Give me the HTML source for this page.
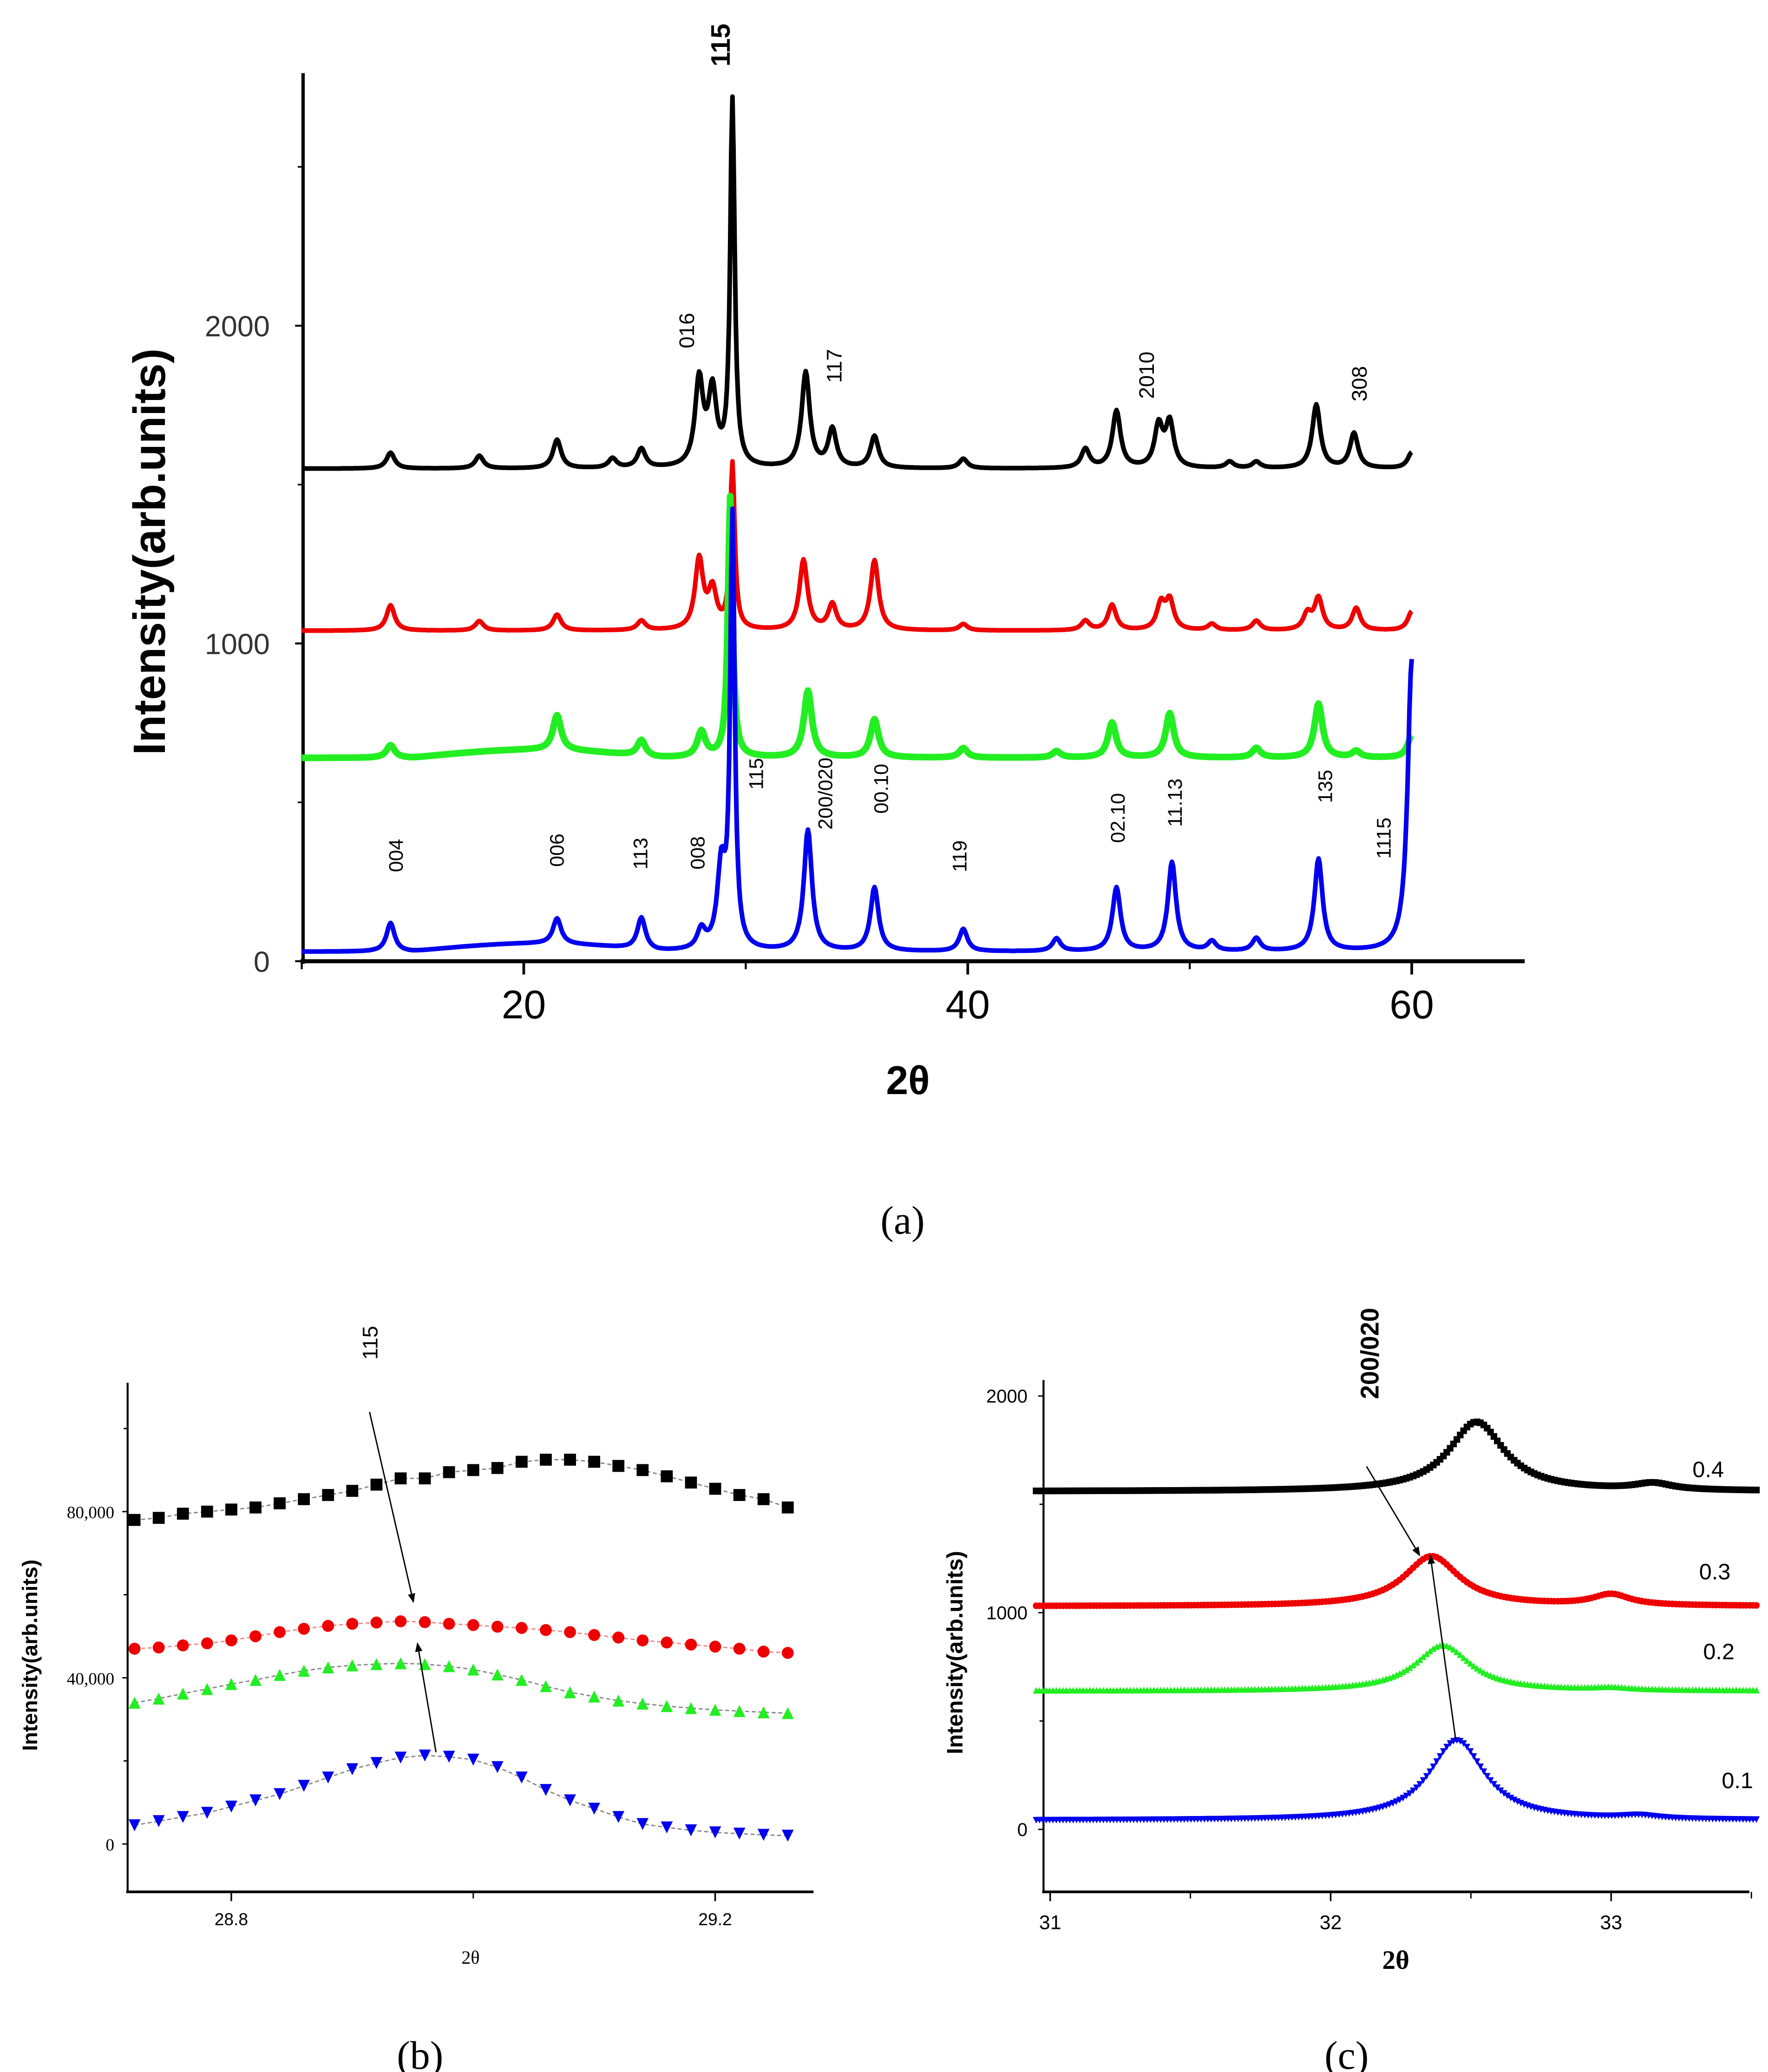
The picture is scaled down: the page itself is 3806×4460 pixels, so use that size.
<!DOCTYPE html>
<html><head><meta charset="utf-8"><style>
html,body{margin:0;padding:0;background:#fff}
svg{display:block}
text{font-family:"Liberation Sans",sans-serif}
</style></head><body>
<svg id="fig" xmlns="http://www.w3.org/2000/svg" width="3806" height="4460" viewBox="0 0 1330 1558.5" preserveAspectRatio="none">
<defs><marker id="ah" viewBox="0 0 10 10" refX="9" refY="5" markerWidth="7" markerHeight="7" orient="auto"><path d="M0,1 L10,5 L0,9 z" fill="#000"/></marker></defs>
<g id="pa"></g>
<g id="pb"></g>
<g id="pc"></g>
</svg>
<script>
// ---- Panel (a) data: peak [position, height] per series, baseline ----
const aBases = [1550, 1040, 640, 30];
const aColors = ['#000', '#e00', '#2e2', '#00e'];
const aPeaksBlack = [[14,50],[18,40],[21.5,90],[24,30],[25.3,60],[27.9,270],[28.5,230],[29.4,1150],[32.7,300],[33.9,120],[35.8,100],[39.8,30],[45.3,60],[46.7,180],[48.6,130],[49.1,140],[51.8,20],[53,20],[55.7,200],[57.4,110],[60,50]];
const aPeaksRed = [[14,80],[18,30],[21.5,50],[25.3,30],[27.9,220],[28.5,120],[29.4,520],[32.6,220],[33.9,80],[35.8,220],[39.8,20],[45.3,30],[46.5,80],[48.7,80],[49.1,90],[51,20],[53,30],[55.3,50],[55.8,100],[57.5,70],[60,60]];
const aPeaksGreen = [[14,40],[21.5,110],[25.3,50],[28,80],[29.3,820],[32.8,210],[35.8,120],[39.8,30],[44,20],[46.5,110],[49.1,140],[53,30],[55.8,170],[57.5,20],[60,70]];
const aPeaksBlue = [[14,90],[21.5,80],[25.3,100],[28,60],[28.9,250],[29.4,1350],[32.8,380],[35.8,200],[39.8,70],[44,40],[46.7,200],[49.2,280],[51,30],[53,40],[55.8,290],[60,920]];
const aXTicks = [20, 40, 60];
const aYTicks = [0, 1000, 2000];

// ---- Panel (b) data ----
const bX0 = 28.72, bStep = 0.02;
const bBlack = [78,78.5,79.5,80,80.5,81,82,83,84,85,86.5,88,88,89.5,90,90.5,92,92.5,92.5,92,91,90,88.5,87,85.5,84,83,81];
const bRed = [47,47.3,47.8,48.3,49,50,51,51.8,52.5,53,53.3,53.6,53.4,53,52.7,52.3,52,51.5,51,50.3,49.7,49,48.5,48,47.5,47,46.3,46];
const bGreen = [34,35,36.2,37.3,38.5,39.5,40.7,41.7,42.5,43,43.3,43.5,43.3,42.8,42,40.8,39.5,38,36.5,35.5,34.5,33.8,33.2,32.7,32.3,32,31.7,31.5];
const bBlue = [4.5,5.5,6.5,7.5,9,10.5,12,14,16,18,19.5,20.8,21.3,21,20.3,18.5,16,13,10.5,8.5,6.5,4.8,4,3.3,2.8,2.5,2.2,2];
const bXTicks = [28.8, 29.2];
const bYTicks = [0, 40, 80];
const bYTickLabels = ['0', '40,000', '80,000'];

// ---- Panel (c) data: [base, peakPos, peakHeight, bumpPos, bumpHeight] ----
const cBlack = [1560, 32.52, 320, 33.15, 30];
const cRed = [1030, 32.36, 230, 33.0, 50];
const cGreen = [640, 32.4, 210, 33.0, 10];
const cBlue = [40, 32.45, 370, 33.1, 15];
const cLabels = ['0.4', '0.3', '0.2', '0.1'];
const cXTicks = [31, 32, 33];
const cYTicks = [0, 1000, 2000];

const NS = 'http://www.w3.org/2000/svg';
function mk(parent, tag, attrs, txt) {
  const e = document.createElementNS(NS, tag);
  for (const k in attrs) e.setAttribute(k, attrs[k]);
  if (txt !== undefined) e.textContent = txt;
  parent.appendChild(e);
  return e;
}
const lor = (x, p, w) => 1 / (1 + ((x - p) / w) * ((x - p) / w));

// ===== Panel A =====
const pa = document.getElementById('pa');
const ax = v => 227 + (v - 10) * 16.7;
const ay = v => 723 - v * 0.239;
let e;
e = mk(pa, 'line', {x1: 228, y1: 55, x2: 228, y2: 725, stroke: '#000', 'stroke-width': 2.5});
 
e = mk(pa, 'line', {x1: 226, y1: 723, x2: 1147, y2: 723, stroke: '#000', 'stroke-width': 3});
 
aXTicks.forEach(t => {
  mk(pa, 'line', {x1: ax(t), y1: 723, x2: ax(t), y2: 733, stroke: '#000', 'stroke-width': 2});
  e = mk(pa, 'text', {x: ax(t), y: 766, 'font-size': 30, 'text-anchor': 'middle'}, t);
   
});
[10,30,50].forEach(t => mk(pa, 'line', {x1: ax(t), y1: 723, x2: ax(t), y2: 729, stroke: '#000', 'stroke-width': 1.5}));
aYTicks.forEach(t => {
  mk(pa, 'line', {x1: 222, y1: ay(t), x2: 228, y2: ay(t), stroke: '#000', 'stroke-width': 1.5});
  e = mk(pa, 'text', {x: 203, y: ay(t) + 8, 'font-size': 22, 'text-anchor': 'end', fill: '#333'}, t);
   
});
[500,1500,2500].forEach(t => mk(pa, 'line', {x1: 224, y1: ay(t), x2: 228, y2: ay(t), stroke: '#000', 'stroke-width': 1.2}));
e = mk(pa, 'text', {x: 0, y: 0, 'font-size': 34, 'font-weight': 'bold', 'text-anchor': 'middle', transform: 'translate(124,415) rotate(-90)'}, 'Intensity(arb.units)');
 
e = mk(pa, 'text', {x: 683, y: 823, 'font-size': 30, 'font-weight': 'bold', 'text-anchor': 'middle'}, '2θ');
 
e = mk(pa, 'text', {x: 679, y: 928, 'font-size': 30, 'text-anchor': 'middle', style: 'font-family:"Liberation Serif",serif'}, '(a)');
 

const aPeakSets = [aPeaksBlack, aPeaksRed, aPeaksGreen, aPeaksBlue];
const aNames = ['a-series-x04', 'a-series-x03', 'a-series-x02', 'a-series-x01'];
aPeakSets.forEach((pk, si) => {
  let d = '';
  for (let x = 10; x <= 60.001; x += 0.05) {
    let v = aBases[si];
    if (si >= 2 && x > 15 && x < 26) v += 25 * Math.sin((x - 15) / 11 * Math.PI);
    pk.forEach(p => { const w = Math.abs(p[0] - 29.35) < 0.2 ? 0.12 : 0.22; v += p[1] * lor(x, p[0], w); });
    d += (d ? 'L' : 'M') + ax(x).toFixed(1) + ',' + ay(v).toFixed(1);
  }
  e = mk(pa, 'path', {d: d, fill: 'none', stroke: aColors[si], 'stroke-width': si === 2 ? 5 : 3.5, 'stroke-linejoin': 'round'});
   
});
const aLabels = [['115',543,50,20,'bold'],['016',516,262,16],['117',627,288,16],['2010',862,300,16],['308',1022,302,16],
 ['004',297,656,15],['006',418,652,15],['113',481,654,15],['008',524,654,15],['115',568,594,15],['200/020',620,624,15],['00.10',662,612,15],
 ['119',721,656,15],['02.10',840,634,15],['11.13',883,622,15],['135',996,604,15],['1115',1040,646,15]];
aLabels.forEach(l => {
  e = mk(pa, 'text', {x: 0, y: 0, 'font-size': l[3], 'font-weight': l[4] || 'normal', transform: `translate(${l[1]+6},${l[2]}) rotate(-90)`}, l[0]);
   
});

// ===== Panel B =====
const pb = document.getElementById('pb');
const bx = v => 174 + (v - 28.8) * 910;
const by = v => 1387 - v * 3.125;
e = mk(pb, 'line', {x1: 96, y1: 1040, x2: 96, y2: 1424, stroke: '#000', 'stroke-width': 1.5});
 
e = mk(pb, 'line', {x1: 95, y1: 1423, x2: 612, y2: 1423, stroke: '#000', 'stroke-width': 2});
 
bXTicks.forEach(t => {
  mk(pb, 'line', {x1: bx(t), y1: 1423, x2: bx(t), y2: 1430, stroke: '#000', 'stroke-width': 1.2});
  e = mk(pb, 'text', {x: bx(t), y: 1448, 'font-size': 13, 'text-anchor': 'middle', style: 'font-family:"Liberation Sans Narrow","Liberation Sans",sans-serif'}, t);
   
});
mk(pb, 'line', {x1: bx(29.0), y1: 1423, x2: bx(29.0), y2: 1428, stroke: '#000', 'stroke-width': 1});
bYTicks.forEach((t, i) => {
  mk(pb, 'line', {x1: 92, y1: by(t), x2: 96, y2: by(t), stroke: '#000', 'stroke-width': 1});
  e = mk(pb, 'text', {x: 86, y: by(t) + 5, 'font-size': 13, 'text-anchor': 'end', style: 'font-family:"Liberation Serif",serif'}, bYTickLabels[i]);
   
});
[20,60,100].forEach(t => mk(pb, 'line', {x1: 93, y1: by(t), x2: 96, y2: by(t), stroke: '#000', 'stroke-width': 1}));
e = mk(pb, 'text', {x: 0, y: 0, 'font-size': 16, 'font-weight': 'bold', 'text-anchor': 'middle', transform: 'translate(28,1245) rotate(-90)'}, 'Intensity(arb.units)');
 
e = mk(pb, 'text', {x: 354, y: 1477, 'font-size': 14, 'text-anchor': 'middle', style: 'font-family:"Liberation Serif",serif'}, '2θ');
 
e = mk(pb, 'text', {x: 316, y: 1556, 'font-size': 30, 'text-anchor': 'middle', style: 'font-family:"Liberation Serif",serif'}, '(b)');
 
e = mk(pb, 'text', {x: 0, y: 0, 'font-size': 16, 'text-anchor': 'middle', transform: 'translate(284,1010) rotate(-90)'}, '115');
 

function marker(g, shape, x, y, c, s) {
  if (shape === 'sq') return mk(g, 'rect', {x: x - s/2, y: y - s/2, width: s, height: s, fill: c});
  if (shape === 'ci') return mk(g, 'circle', {cx: x, cy: y, r: s/2, fill: c});
  if (shape === 'up') return mk(g, 'path', {d: `M${x},${y-s/2}L${x+s/2},${y+s/2}L${x-s/2},${y+s/2}z`, fill: c});
  return mk(g, 'path', {d: `M${x-s/2},${y-s/2}L${x+s/2},${y-s/2}L${x},${y+s/2}z`, fill: c});
}
const bSeries = [bBlack, bRed, bGreen, bBlue];
const bShapes = ['sq', 'ci', 'up', 'dn'];
const bNames = ['b-series-x04', 'b-series-x03', 'b-series-x02', 'b-series-x01'];
bSeries.forEach((vals, si) => {
  const g = mk(pb, 'g', {});
   
  const pts = vals.map((v, i) => bx(bX0 + i * bStep).toFixed(1) + ',' + by(v).toFixed(1));
  mk(g, 'polyline', {points: pts.join(' '), fill: 'none', stroke: si === 1 ? '#e88' : '#888', 'stroke-width': 1, 'stroke-dasharray': '3,2'});
  vals.forEach((v, i) => {
    const m = marker(g, bShapes[si], bx(bX0 + i * bStep), by(v), aColors[si], 9);
     
  });
});
e = mk(pb, 'line', {x1: 278, y1: 1062, x2: 311, y2: 1205, stroke: '#000', 'stroke-width': 1, 'marker-end': 'url(#ah)'});
 
e = mk(pb, 'line', {x1: 328, y1: 1318, x2: 314, y2: 1236, stroke: '#000', 'stroke-width': 1, 'marker-end': 'url(#ah)'});
 

// ===== Panel C =====
const pc = document.getElementById('pc');
const cx = v => 790 + (v - 31) * 211;
const cy = v => 1376 - v * 0.163;
e = mk(pc, 'line', {x1: 785, y1: 1038, x2: 785, y2: 1424, stroke: '#000', 'stroke-width': 1.5});
 
e = mk(pc, 'line', {x1: 784, y1: 1423, x2: 1316, y2: 1423, stroke: '#000', 'stroke-width': 2});
 
cXTicks.forEach(t => {
  mk(pc, 'line', {x1: cx(t), y1: 1423, x2: cx(t), y2: 1430, stroke: '#000', 'stroke-width': 1.2});
  e = mk(pc, 'text', {x: cx(t), y: 1451, 'font-size': 15, 'text-anchor': 'middle'}, t);
   
});
[31.5, 32.5, 33.5].forEach(t => mk(pc, 'line', {x1: cx(t), y1: 1423, x2: cx(t), y2: 1428, stroke: '#000', 'stroke-width': 1}));
cYTicks.forEach(t => {
  mk(pc, 'line', {x1: 781, y1: cy(t), x2: 785, y2: cy(t), stroke: '#000', 'stroke-width': 1});
  e = mk(pc, 'text', {x: 773, y: cy(t) + 5, 'font-size': 14, 'text-anchor': 'end'}, t);
   
});
[500, 1500].forEach(t => mk(pc, 'line', {x1: 782, y1: cy(t), x2: 785, y2: cy(t), stroke: '#000', 'stroke-width': 1}));
e = mk(pc, 'text', {x: 0, y: 0, 'font-size': 17, 'font-weight': 'bold', 'text-anchor': 'middle', transform: 'translate(724,1243) rotate(-90)'}, 'Intensity(arb.units)');
 
e = mk(pc, 'text', {x: 1050, y: 1481, 'font-size': 20, 'font-weight': 'bold', 'text-anchor': 'middle', style: 'font-family:"Liberation Serif",serif'}, '2θ');
 
e = mk(pc, 'text', {x: 1013, y: 1556, 'font-size': 30, 'text-anchor': 'middle', style: 'font-family:"Liberation Serif",serif'}, '(c)');
 
e = mk(pc, 'text', {x: 0, y: 0, 'font-size': 19, 'font-weight': 'bold', 'text-anchor': 'middle', transform: 'translate(1037,1018) rotate(-90)'}, '200/020');
 

const cSeries = [cBlack, cRed, cGreen, cBlue];
const cShapes = ['sq', 'ci', 'up', 'dn'];
const cNames = ['c-series-x04', 'c-series-x03', 'c-series-x02', 'c-series-x01'];
const cLabelPos = [[1285,1111],[1290,1188],[1293,1248],[1307,1345]];
cSeries.forEach((p, si) => {
  const g = mk(pc, 'g', {});
   
  let d = '';
  const pts = [];
  for (let x = 30.95; x <= 33.52; x += 0.012) {
    const v = p[0] + p[2] * lor(x, p[1], 0.12) + p[4] * lor(x, p[3], 0.08);
    pts.push([cx(x), cy(v)]);
    d += (d ? 'L' : 'M') + cx(x).toFixed(1) + ',' + cy(v).toFixed(1);
  }
  mk(g, 'path', {d: d, fill: 'none', stroke: aColors[si], 'stroke-width': 1.5});
  pts.forEach(q => marker(g, cShapes[si], q[0], q[1], aColors[si], 5));
  e = mk(pc, 'text', {x: cLabelPos[si][0], y: cLabelPos[si][1], 'font-size': 17, 'text-anchor': 'middle'}, cLabels[si]);
   
});
e = mk(pc, 'line', {x1: 1028, y1: 1103, x2: 1068, y2: 1170, stroke: '#000', 'stroke-width': 1, 'marker-end': 'url(#ah)'});
 
e = mk(pc, 'line', {x1: 1095, y1: 1308, x2: 1076, y2: 1170, stroke: '#000', 'stroke-width': 1, 'marker-end': 'url(#ah)'});
 
</script>
</body></html>
